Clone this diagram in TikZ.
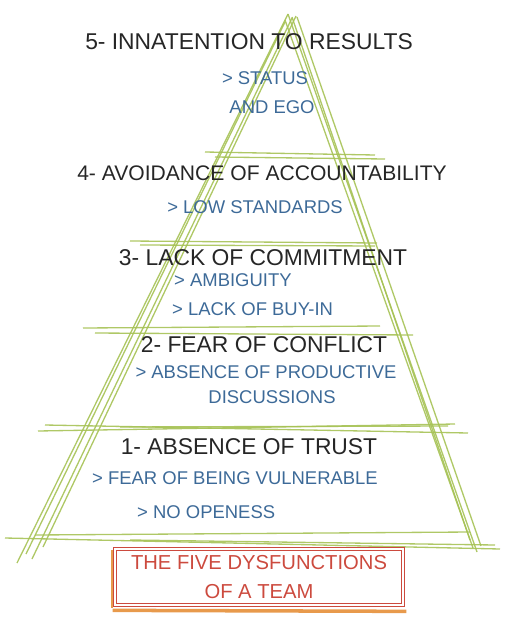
\documentclass[tikz,border=0pt]{standalone}
\usepackage{fontspec}
\setmainfont{Liberation Sans}
\usepackage{tikz}
\definecolor{leaf}{HTML}{A6C255}
\definecolor{ink}{HTML}{3D6A98}
\definecolor{brick}{HTML}{CC4A3E}
\definecolor{amber}{HTML}{E89A4C}

\begin{document}
\begin{tikzpicture}[x=0.2mm,y=-0.2mm,
    sketch/.style={leaf,line width=0.75pt,opacity=0.9},
    level/.style={font=\fontsize{13}{15}\selectfont,text=black!85},
    cause/.style={font=\fontsize{10.5}{13}\selectfont,text=ink},
    teamtext/.style={font=\fontsize{11.5}{14}\selectfont,text=brick}]
    \useasboundingbox (0,0) rectangle (512,624);
    %\draw[very thin,color=gray] (0,0) grid[step=50] (512,624);

    % sides of the pyramid
    \draw[sketch] (288,14) -- (17,563);
    \draw[sketch] (292,18) -- (32,559);
    \draw[sketch] (296,16) -- (43,547);
    \draw[sketch] (285,22) -- (26,554);
    \draw[sketch] (288,14) -- (477,552);
    \draw[sketch] (292,17) -- (470,540);
    \draw[sketch] (285,20) -- (473,548);
    \draw[sketch] (297,17) -- (481,546);

    % bands between the levels
    \draw[sketch] (205,152) -- (375,155);
    \draw[sketch] (215,157) -- (385,159);
    \draw[sketch] (130,241) -- (377,243);
    \draw[sketch] (140,245) -- (375,246);
    \draw[sketch] (83,328) -- (380,326);
    \draw[sketch] (95,333) -- (413,335);
    \draw[sketch] (38,431) -- (455,424);
    \draw[sketch] (45,425) -- (468,433);
    \draw[sketch] (120,427) -- (448,426);
    \draw[sketch] (5,538) -- (500,549);
    \draw[sketch] (35,535) -- (470,532);
    \draw[sketch] (130,540) -- (495,545);

    % level 5
    \node[level] (l5) at (249,42) {5- INNATENTION TO RESULTS};
    \node[cause] (c5a) at (265,78) {> STATUS};
    \node[cause] (c5b) at (272,107) {AND EGO};
    % level 4
    \node[level,font=\fontsize{12}{14}\selectfont] (l4) at (262,173) {4- AVOIDANCE OF ACCOUNTABILITY};
    \node[cause] (c4) at (255,207) {> LOW STANDARDS};
    % level 3
    \node[level] (l3) at (263,258) {3- LACK OF COMMITMENT};
    \node[cause,anchor=west] (c3a) at (168,280) {> AMBIGUITY};
    \node[cause,anchor=west] (c3b) at (166,309) {> LACK OF BUY-IN};
    % level 2
    \node[level] (l2) at (264,345) {2- FEAR OF CONFLICT};
    \node[cause] (c2a) at (266,372) {> ABSENCE OF PRODUCTIVE};
    \node[cause] (c2b) at (272,397) {DISCUSSIONS};
    % level 1
    \node[level] (l1) at (249,447) {1- ABSENCE OF TRUST};
    \node[cause,anchor=west] (c1a) at (86,478) {> FEAR OF BEING VULNERABLE};
    \node[cause,anchor=west] (c1b) at (131,512) {> NO OPENESS};

    % caption box
    \node[teamtext,align=center,minimum width=290*0.2mm,minimum height=58*0.2mm]
        (team) at (259,577) {THE FIVE DYSFUNCTIONS\\[2pt]OF A TEAM};
    \draw[amber,line width=2pt] ([shift={(-1,4)}]team.south west) -- ([shift={(2,5)}]team.south east);
    \draw[amber,line width=1.2pt] ([shift={(-2,2)}]team.north west) -- ([shift={(-2,2)}]team.south west);
    \draw[brick,line width=0.9pt] (team.north west) rectangle (team.south east);
    \draw[brick,line width=0.6pt] ([shift={(3,3)}]team.north west) rectangle ([shift={(-3,-3)}]team.south east);
\end{tikzpicture}
\end{document}
